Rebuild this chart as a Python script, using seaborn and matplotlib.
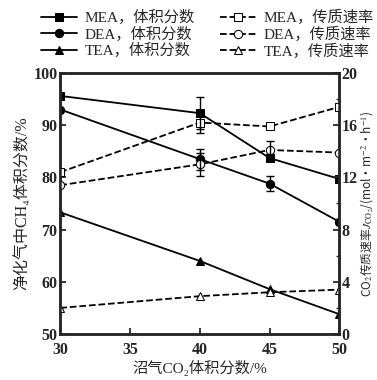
import matplotlib
matplotlib.use('Agg')
import matplotlib.pyplot as plt
import seaborn as sns
import numpy as np

# data
co2_feed = [30, 40, 45, 50]

mea_ch4 = [95.6, 92.3, 83.7, 79.7]
dea_ch4 = [93.0, 83.5, 78.8, 71.5]
tea_ch4 = [73.3, 64.0, 58.6, 53.8]

mea_rate = [12.4, 16.2, 15.9, 17.4]
dea_rate = [11.4, 13.0, 14.1, 13.9]
tea_rate = [2.0, 2.9, 3.2, 3.4]

# error bars (only the few visible ones)
ch4_err_x = [40, 40, 45]
ch4_err_y = [92.3, 83.5, 78.8]
ch4_err = [3.0, 2.0, 1.5]
rate_err_x = [40, 40, 45]
rate_err_y = [16.2, 13.0, 14.1]
rate_err = [0.8, 0.9, 0.7]

sns.set_style('ticks')
plt.rcParams['font.family'] = ['Liberation Serif', 'Noto Sans CJK SC', 'DejaVu Serif']
plt.rcParams['axes.unicode_minus'] = False

fig = plt.figure(figsize=(3.77, 3.80), dpi=100)
ax = fig.add_axes([0.160, 0.121, 0.740, 0.687])
ax2 = ax.twinx()

lw = 1.3
ms = 6
sns.lineplot(x=co2_feed, y=mea_ch4, ax=ax, color='black', lw=lw, marker='s', markersize=ms,
             markeredgecolor='black', label='MEA，体积分数', legend=False)
sns.lineplot(x=co2_feed, y=dea_ch4, ax=ax, color='black', lw=lw, marker='o', markersize=ms,
             markeredgecolor='black', label='DEA，体积分数', legend=False)
sns.lineplot(x=co2_feed, y=tea_ch4, ax=ax, color='black', lw=lw, marker='^', markersize=ms,
             markeredgecolor='black', label='TEA，体积分数', legend=False)

sns.lineplot(x=co2_feed, y=mea_rate, ax=ax2, color='black', lw=lw, ls='--', marker='s', markersize=ms,
             markerfacecolor='white', markeredgecolor='black', label='MEA，传质速率', legend=False)
sns.lineplot(x=co2_feed, y=dea_rate, ax=ax2, color='black', lw=lw, ls='--', marker='o', markersize=ms,
             markerfacecolor='white', markeredgecolor='black', label='DEA，传质速率', legend=False)
sns.lineplot(x=co2_feed, y=tea_rate, ax=ax2, color='black', lw=lw, ls='--', marker='^', markersize=ms,
             markerfacecolor='white', markeredgecolor='black', label='TEA，传质速率', legend=False)

ax.errorbar(ch4_err_x, ch4_err_y, yerr=ch4_err, fmt='none', ecolor='black', elinewidth=1, capsize=3)
ax2.errorbar(rate_err_x, rate_err_y, yerr=rate_err, fmt='none', ecolor='black', elinewidth=1, capsize=3)

ax.set_xlim(30, 50)
ax.set_ylim(50, 100)
ax2.set_ylim(0, 20)
ax.set_xticks([30, 35, 40, 45, 50])
ax.set_yticks([50, 60, 70, 80, 90, 100])
ax2.set_yticks([0, 4, 8, 12, 16, 20])
ax2.set_yticks(np.arange(2, 20, 4), minor=True)

for a in (ax, ax2):
    for s in a.spines.values():
        s.set_linewidth(1.8)
    a.tick_params(direction='in', length=4, width=1.3, labelsize=11.5)
    a.tick_params(which='minor', direction='in', length=2.5, width=1)
    for lab in a.get_xticklabels() + a.get_yticklabels():
        lab.set_fontweight('bold')
ax.tick_params(axis='x', pad=6)
ax.tick_params(axis='y', pad=2)
ax2.tick_params(axis='y', pad=1.5)

ax.set_xlabel('沼气CO₂体积分数/%', fontsize=11, labelpad=1)
ax.set_ylabel('净化气中CH₄体积分数/%', fontsize=11.5, labelpad=2)
ax2.set_ylabel('CO$_2$传质速率$J_{\\mathrm{CO_2}}$/(mol·m$^{-2}$·h$^{-1}$)', fontsize=8.5, labelpad=0.5,
               family='Noto Sans CJK SC', math_fontfamily='stix')

h1, l1 = ax.get_legend_handles_labels()
h2, l2 = ax2.get_legend_handles_labels()
fig.legend(h1 + h2, l1 + l2, loc='upper center', bbox_to_anchor=(0.55, 1.01), ncol=2,
           frameon=False, fontsize=11, handlelength=2.4, columnspacing=1.6,
           labelspacing=0.1, handletextpad=0.5)

fig.savefig('out.png', dpi=100)
